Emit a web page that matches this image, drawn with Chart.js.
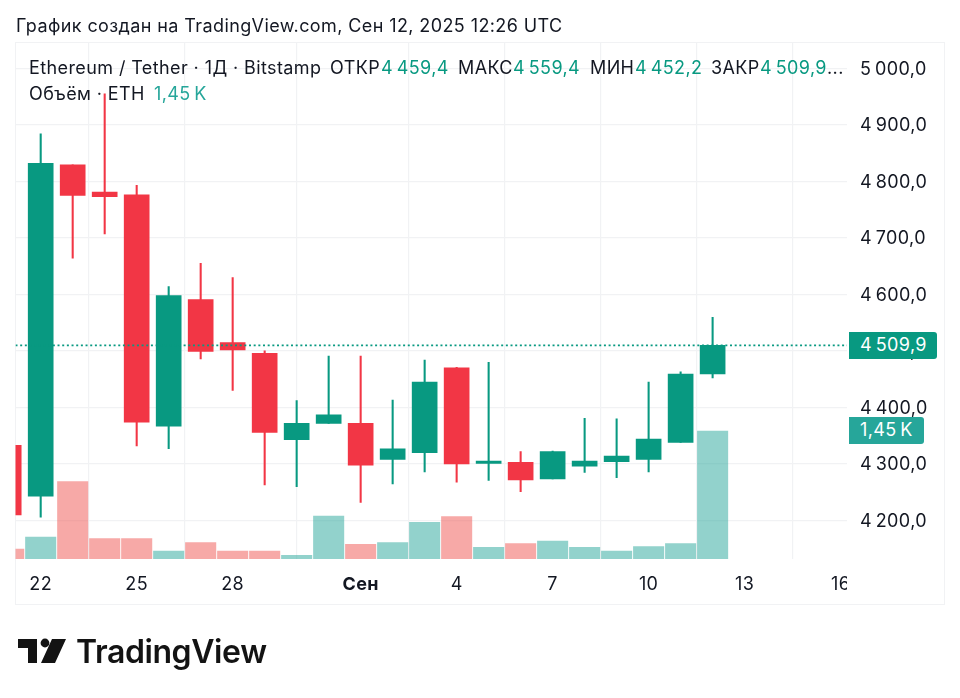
<!DOCTYPE html>
<html>
<head>
<meta charset="utf-8">
<script src="https://cdn.jsdelivr.net/npm/chart.js@4"></script>
<style>
    html, body { margin: 0; padding: 0; background: #fff; }
    body { width: 960px; height: 698px; position: relative; overflow: hidden; font-family: Inter, sans-serif; color: #131722; }
    canvas { position: absolute; left: 0; top: 0; }
    .txt { position: absolute; white-space: nowrap; font-size: 18px; letter-spacing: 0.4px; line-height: 20px; }
    .val { color: #089981; }
    #frame { position: absolute; left: 15px; top: 42px; width: 928px; height: 561px; border: 1px solid #f1f2f4; }
    .tag { position: absolute; left: 849px; color: #fff; font-size: 18px; letter-spacing: 0.4px; line-height: 26px; height: 27px; padding-left: 11px; box-sizing: border-box; border-radius: 0 3px 3px 0; }
</style>
</head>
<body>
<div id="frame"></div>
<canvas id="chart" width="960" height="698"></canvas>

<div class="txt" style="left:16px;top:16px;">График создан на TradingView.com, Сен 12, 2025 12:26 UTC</div>

<div class="txt" style="left:29px;top:58px;">Ethereum / Tether · 1Д · Bitstamp</div>
<div class="txt" style="left:330px;top:58px;">ОТКР</div>
<div class="txt val" style="left:381px;top:58px;">4&#8201;459,4</div>
<div class="txt" style="left:458px;top:58px;">МАКС</div>
<div class="txt val" style="left:513px;top:58px;">4&#8201;559,4</div>
<div class="txt" style="left:590px;top:58px;">МИН</div>
<div class="txt val" style="left:635px;top:58px;">4&#8201;452,2</div>
<div class="txt" style="left:711px;top:58px;">ЗАКР</div>
<div class="txt val" style="left:760px;top:58px;">4&#8201;509,9</div>
<div class="txt" style="left:827px;top:58px;">...</div>
<div class="txt" style="left:29px;top:84px;">Объём · ETH</div>
<div class="txt" style="left:154px;top:84px;color:#26a69a;">1,45&#8201;K</div>

<div class="tag" id="priceTag" style="width:88px;background:#089981;">4&#8201;509,9</div>
<div class="tag" id="volTag" style="width:75px;background:#26a69a;">1,45&#8201;K</div>

<svg style="position:absolute;left:18px;top:638px;" width="50" height="26" viewBox="0 0 50 26">
    <path d="M0 1H19V25H10V10H0Z M34 1H48L37 25H23Z" fill="#131313"/>
    <circle cx="27" cy="5" r="4.4" fill="#131313"/>
</svg>
<div class="txt" style="left:76px;top:632px;font-size:32px;line-height:40px;font-weight:600;letter-spacing:-0.4px;color:#131313;">TradingView</div>

<script>
// Aug 21 .. Sep 12, one entry per daily candle
const days = ['21', '22', '23', '24', '25', '26', '27', '28', '29', '30', '31',
    '1', '2', '3', '4', '5', '6', '7', '8', '9', '10', '11', '12'];
const opens = [4333, 4243, 4829, 4781, 4776, 4367, 4591, 4515, 4496, 4343, 4372,
    4372, 4308, 4320, 4470, 4301, 4303, 4273.5, 4296, 4304, 4308, 4338, 4459.4];
const highs = [4340, 4884, 4829, 4955, 4793, 4614, 4655, 4630, 4500, 4412, 4491,
    4491, 4413, 4484, 4471, 4480, 4322, 4323, 4381, 4380, 4445, 4463, 4559.4];
const lows = [4205, 4206, 4664, 4707, 4332, 4327, 4486, 4430, 4263, 4260, 4372,
    4232, 4265, 4286, 4268, 4271, 4251, 4273.5, 4285, 4276, 4286, 4338, 4452.2];
const closes = [4210, 4832, 4775, 4773, 4374, 4598, 4499, 4502, 4356, 4372, 4387,
    4298, 4327, 4445, 4300, 4305, 4272, 4322, 4305, 4314, 4344, 4459, 4509.9];
const volumes = [113, 249, 876, 230, 230, 91, 185, 91, 91, 41, 487,
    166, 185, 415, 480, 132, 174, 204, 132, 91, 140, 174, 1450];

const priceTicks = [4200, 4300, 4400, 4500, 4600, 4700, 4800, 4900, 5000];
const timeTickIndex = [1, 4, 7, 11, 14, 17, 20, 23, 26];
const timeTickLabels = ['22', '25', '28', 'Сен', '4', '7', '10', '13', '16'];

const UP = '#089981';
const DOWN = '#f23645';
const VOL_UP = 'rgba(38, 166, 154, 0.5)';
const VOL_DOWN = 'rgba(239, 83, 80, 0.5)';

const isUp = days.map((d, i) => closes[i] >= opens[i]);
const candleColors = isUp.map(up => up ? UP : DOWN);
const volColors = isUp.map(up => up ? VOL_UP : VOL_DOWN);

const formatPrice = (v) => {
    const s = v.toFixed(1).replace('.', ',');
    return s[0] + '\u2009' + s.slice(1);
};

const lastClose = closes[closes.length - 1];
const xMin = 0.2125;
const xMax = 26.2;

const chart = new Chart(document.getElementById('chart').getContext('2d'), {
    data: {
        datasets: [
            {
                type: 'line',
                data: [{ x: xMin, y: lastClose }, { x: xMax, y: lastClose }],
                borderColor: UP,
                borderWidth: 1.6,
                borderDash: [2, 2.67],
                pointRadius: 0,
                yAxisID: 'y',
                order: 0
            },
            {
                type: 'bar',
                data: days.map((d, i) => ({ x: i, y: [opens[i], closes[i]] })),
                backgroundColor: candleColors,
                barThickness: 25,
                grouped: false,
                yAxisID: 'y',
                order: 1
            },
            {
                type: 'bar',
                data: days.map((d, i) => ({ x: i, y: [lows[i], highs[i]] })),
                backgroundColor: candleColors,
                barThickness: 1.4,
                grouped: false,
                yAxisID: 'y',
                order: 2
            },
            {
                type: 'bar',
                data: days.map((d, i) => ({ x: i, y: volumes[i] })),
                backgroundColor: volColors,
                barThickness: 30.4,
                grouped: false,
                yAxisID: 'vol',
                order: 3
            }
        ]
    },
    options: {
        responsive: false,
        animation: false,
        devicePixelRatio: 1,
        layout: { padding: { left: 15.5, top: 42.5, right: 0, bottom: 0 } },
        plugins: {
            legend: { display: false },
            tooltip: { enabled: false }
        },
        scales: {
            x: {
                type: 'linear',
                min: xMin,
                max: xMax,
                offset: false,
                grid: { color: '#f1f2f4', lineWidth: 1.2, drawTicks: false },
                border: { display: false },
                afterBuildTicks: (scale) => {
                    scale.ticks = timeTickIndex.map(v => ({ value: v }));
                },
                afterFit: (scale) => { scale.height = 139; },
                ticks: {
                    autoSkip: false,
                    maxRotation: 0,
                    padding: 15,
                    color: '#131722',
                    font: (ctx) => ({
                        family: 'Inter',
                        size: 18,
                        weight: timeTickLabels[ctx.index] === 'Сен' ? '700' : '400'
                    }),
                    callback: (v) => timeTickLabels[timeTickIndex.indexOf(v)]
                }
            },
            y: {
                type: 'linear',
                position: 'right',
                min: 4132,
                max: 5045.6,
                grid: { color: '#f1f2f4', lineWidth: 1.2, drawTicks: false },
                border: { display: false },
                afterBuildTicks: (scale) => {
                    scale.ticks = priceTicks.map(v => ({ value: v }));
                },
                afterFit: (scale) => { scale.width = 113; },
                ticks: {
                    padding: 13,
                    labelOffset: 1,
                    color: '#131722',
                    font: { family: 'Inter', size: 18 },
                    callback: formatPrice
                }
            },
            vol: {
                type: 'linear',
                display: false,
                min: 0,
                max: 5850
            }
        }
    },
    plugins: [{
        // axis labels share the wider spacing of the page text
        id: 'labelSpacing',
        beforeDraw: (c) => { c.ctx.letterSpacing = '0.4px'; }
    }, {
        // the last time label is cut off where the plot pane ends
        id: 'clipTimeLabels',
        afterDraw: (c) => {
            const ctx = c.ctx;
            ctx.save();
            ctx.fillStyle = '#fff';
            ctx.fillRect(c.chartArea.right, c.chartArea.bottom + 2, 30, 38);
            ctx.restore();
        }
    }]
});

// price and volume tags sit on the axis at their value
document.getElementById('priceTag').style.top = (chart.scales.y.getPixelForValue(lastClose) - 13.5) + 'px';
document.getElementById('volTag').style.top = (chart.scales.vol.getPixelForValue(volumes[volumes.length - 1]) - 13.5) + 'px';
</script>
</body>
</html>
